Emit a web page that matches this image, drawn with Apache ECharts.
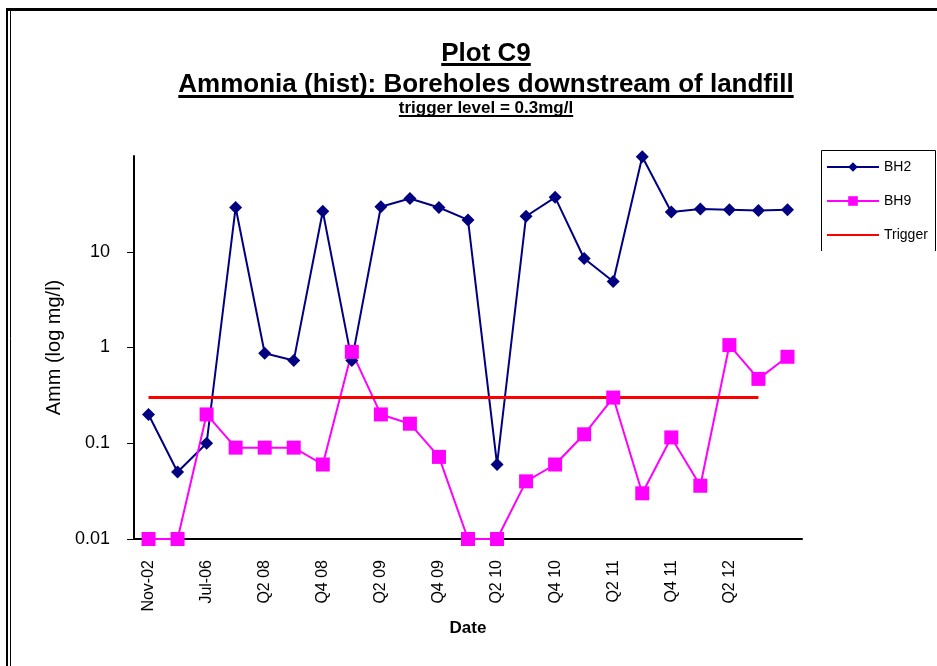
<!DOCTYPE html>
<html>
<head>
<meta charset="utf-8">
<title>Plot C9</title>
<script src="https://cdn.jsdelivr.net/npm/echarts@6/dist/echarts.min.js"></script>
<style>
  html, body { margin: 0; padding: 0; background: #fff; }
  #main { width: 937px; height: 666px; }
</style>
</head>
<body>
<div id="main"></div>
<script>
// categories (only every other one is labelled on the axis)
var dates = ['Nov-02', 'Mar-04', 'Jul-06', 'Q1 08', 'Q2 08', 'Q3 08', 'Q4 08', 'Q1 09',
  'Q2 09', 'Q3 09', 'Q4 09', 'Q1 10', 'Q2 10', 'Q3 10', 'Q4 10', 'Q1 11', 'Q2 11',
  'Q3 11', 'Q4 11', 'Q1 12', 'Q2 12', 'Q3 12', 'Q4 12'];

var bh2 = [0.2, 0.05, 0.1, 29, 0.87, 0.73, 26.5, 0.73, 29.5, 36, 29, 21.5, 0.06,
  23.5, 37, 8.5, 4.9, 98, 26, 28, 27.5, 27, 27.5];

var bh9 = [0.01, 0.01, 0.2, 0.09, 0.09, 0.09, 0.06, 0.9, 0.2, 0.16, 0.072, 0.01, 0.01,
  0.04, 0.06, 0.124, 0.3, 0.03, 0.115, 0.036, 1.06, 0.47, 0.8];

var trigger = [0.3, 0.3, 0.3, 0.3, 0.3, 0.3, 0.3, 0.3, 0.3, 0.3, 0.3, 0.3, 0.3,
  0.3, 0.3, 0.3, 0.3, 0.3, 0.3, 0.3, 0.3, 0.3, null];

var titleLines = ['Plot C9', 'Ammonia (hist): Boreholes downstream of landfill', 'trigger level = 0.3mg/l'];

var FONT = '"Liberation Sans", Arial, sans-serif';

// text size, text y, underline y for each title line
var titleLayout = [
  { size: 26, y: 54, uy: 64.5, lw: 3 },
  { size: 26, y: 85, uy: 96.5, lw: 3 },
  { size: 17, y: 108, uy: 116, lw: 2 }
];

// measure text so the underline matches the title width
var ctx = document.createElement('canvas').getContext('2d');
function textWidth(str, size) {
  ctx.font = 'bold ' + size + 'px ' + FONT;
  return ctx.measureText(str).width;
}

var graphics = [
  // outer frame
  { type: 'line', shape: { x1: 6, y1: 9.5, x2: 937, y2: 9.5 }, style: { stroke: '#000', lineWidth: 3 } },
  { type: 'line', shape: { x1: 7, y1: 9, x2: 7, y2: 666 }, style: { stroke: '#000', lineWidth: 2 } },
  { type: 'line', shape: { x1: 10.5, y1: 11, x2: 10.5, y2: 666 }, style: { stroke: '#000', lineWidth: 1 } },
  // legend box (open at the bottom)
  { type: 'polyline', shape: { points: [[821.5, 251], [821.5, 150.5], [935.5, 150.5], [935.5, 251]] },
    style: { stroke: '#000', lineWidth: 1, fill: null } }
];

titleLines.forEach(function (txt, i) {
  var l = titleLayout[i];
  var w = textWidth(txt, l.size);
  graphics.push({
    type: 'text', x: 486, y: l.y,
    style: { text: txt, font: 'bold ' + l.size + 'px ' + FONT, fill: '#000',
      textAlign: 'center', textVerticalAlign: 'middle' }
  });
  graphics.push({
    type: 'line', shape: { x1: 486 - w / 2, y1: l.uy, x2: 486 + w / 2, y2: l.uy },
    style: { stroke: '#000', lineWidth: l.lw }
  });
});

var chart = echarts.init(document.getElementById('main'));
chart.setOption({
  backgroundColor: '#fff',
  animation: false,
  textStyle: { fontFamily: FONT },
  grid: { left: 134, top: 156, right: 135, bottom: 127 },
  legend: {
    orient: 'vertical',
    left: 821,
    top: 155,
    itemWidth: 52,
    itemHeight: 12,
    itemGap: 20,
    textStyle: { fontSize: 14, color: '#000' },
    data: ['BH2', 'BH9', { name: 'Trigger', itemStyle: { opacity: 0 } }]
  },
  xAxis: {
    type: 'category',
    data: dates,
    boundaryGap: true,
    name: 'Date',
    nameLocation: 'middle',
    nameGap: 74,
    nameTextStyle: { fontWeight: 'bold', fontSize: 17, color: '#000' },
    axisLine: { lineStyle: { color: '#000', width: 2 } },
    axisTick: { interval: 0, length: 5, lineStyle: { color: '#000' } },
    axisLabel: {
      interval: function (i) { return i % 2 === 0 && i <= 20; },
      rotate: 90,
      margin: 21,
      fontSize: 16,
      color: '#000'
    },
    splitLine: { show: false }
  },
  yAxis: {
    type: 'log',
    logBase: 10,
    min: 0.01,
    max: 100,
    name: 'Amm (log mg/l)',
    nameLocation: 'middle',
    nameGap: 68,
    nameTextStyle: { fontSize: 20, color: '#000' },
    axisLine: { show: true, lineStyle: { color: '#000', width: 2 } },
    axisTick: { show: true, length: 7, lineStyle: { color: '#000' } },
    axisLabel: {
      margin: 24,
      fontSize: 18,
      color: '#000',
      showMaxLabel: false,
      formatter: function (v) {
        if (v > 50) return '';
        return String(v);
      }
    },
    splitLine: { show: false }
  },
  series: [
    {
      name: 'BH2', type: 'line', data: bh2,
      symbol: 'diamond', symbolSize: 13,
      itemStyle: { color: '#000080' },
      lineStyle: { color: '#000080', width: 2 }
    },
    {
      name: 'BH9', type: 'line', data: bh9,
      symbol: 'rect', symbolSize: 14,
      itemStyle: { color: '#ff00ff' },
      lineStyle: { color: '#ff00ff', width: 2 }
    },
    {
      name: 'Trigger', type: 'line', data: trigger,
      symbol: 'none',
      itemStyle: { color: '#ff0000' },
      lineStyle: { color: '#ff0000', width: 3 }
    }
  ],
  graphic: graphics
});
</script>
</body>
</html>
